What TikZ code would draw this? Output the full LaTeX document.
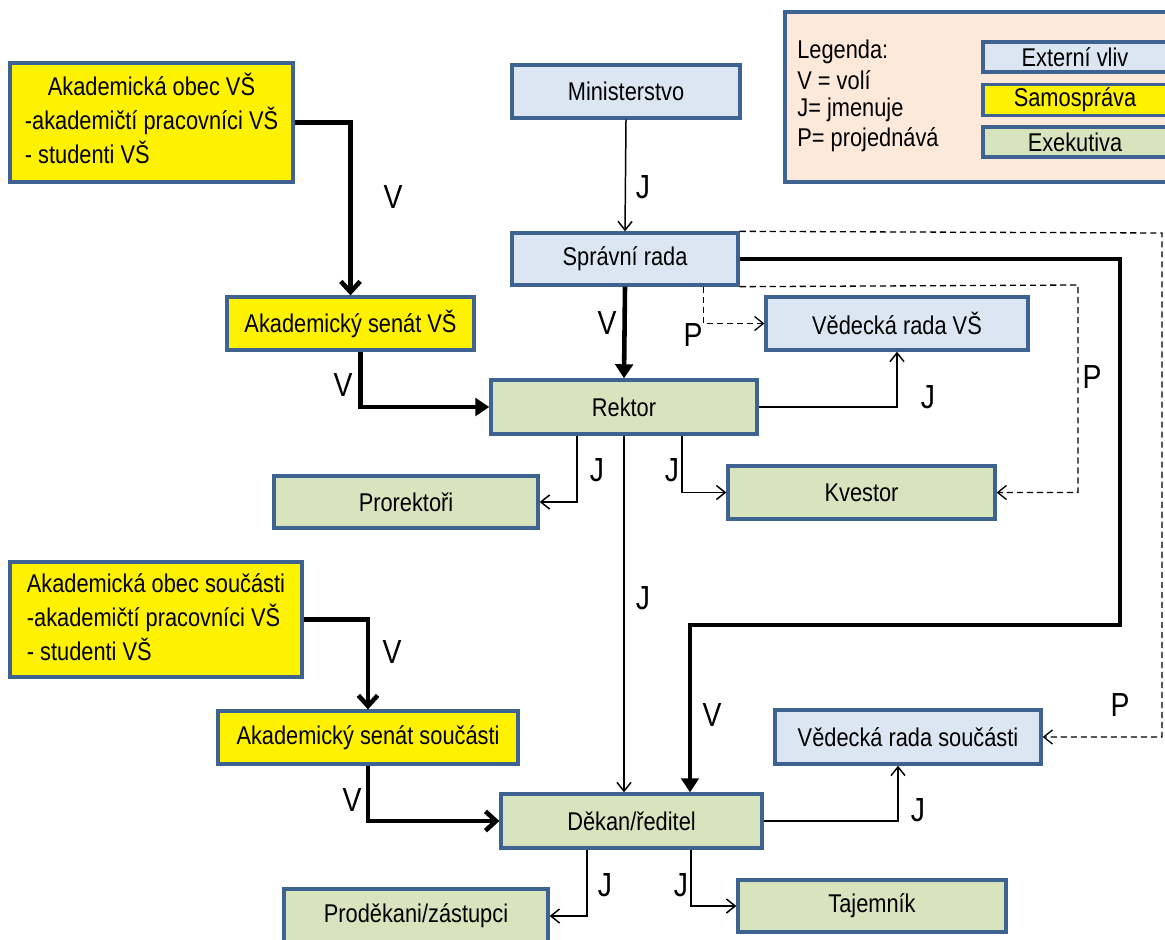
\documentclass[tikz,border=0pt]{standalone}
\usepackage{fontspec}
\setmainfont{Liberation Sans}[FakeStretch=0.85]
\usetikzlibrary{arrows.meta}

\definecolor{extfill}{HTML}{DCE6F2}
\definecolor{exefill}{HTML}{D7E4BD}
\definecolor{legfill}{HTML}{FDE9D9}
\definecolor{boxline}{HTML}{3E6390}

\tikzset{
    box/.style={draw=boxline, line width=1.9pt, inner sep=2pt, font=\fontsize{14.6}{19.3}\selectfont},
    ext/.style={box, fill=extfill},
    samo/.style={box, fill=yellow},
    exe/.style={box, fill=exefill},
    volba/.style={line width=2.6pt, -{Straight Barb[length=6pt,width=11pt]}},
    volbaplna/.style={line width=2.6pt, -{Triangle[length=8pt,width=10pt]}},
    jmen/.style={line width=0.85pt, -{Straight Barb[length=5pt,width=8pt]}},
    proj/.style={line width=0.75pt, dash pattern=on 3.5pt off 2.2pt, -{Straight Barb[length=5pt,width=8pt]}},
    lbl/.style={font=\fontsize{19}{19}\selectfont}
}

\begin{document}
\begin{tikzpicture}[x=0.02cm, y=-0.02cm]

    \useasboundingbox (0,0) rectangle (1165,939);

    % Legend
    \node[box, fill=legfill, minimum width=7.8cm, minimum height=3.4cm] (legenda) at (980,97) {};
    \foreach \t/\y [count=\i] in {Legenda:/52, V = volí/80, J= jmenuje/110, P= projednává/140} {
        \node[anchor=west, inner sep=0pt, font=\fontsize{14.6}{15}\selectfont] (leg\i) at (797,\y) {\t};
    }
    \node[ext, minimum width=3.68cm, minimum height=0.6cm] (legext) at (1075,57) {Externí vliv};
    \node[samo, minimum width=3.68cm, minimum height=0.6cm] (legsamo) at (1075,100) {Samospráva};
    \node[exe, minimum width=3.68cm, minimum height=0.6cm] (legexe) at (1075,142) {Exekutiva};

    % Boxes
    \node[samo, minimum width=5.66cm, minimum height=2.38cm] (aovs) at (151.5,122.5)
        {\begin{tabular}{@{}l@{}}\multicolumn{1}{@{}c@{}}{Akademická obec VŠ}\\-akademičtí pracovníci VŠ\\- studenti VŠ\end{tabular}};
    \node[ext, minimum width=4.56cm, minimum height=1.06cm] (min) at (626,91.5) {Ministerstvo};
    \node[ext, minimum width=4.52cm, minimum height=1.04cm] (spr) at (625,259) {Správní rada};
    \node[samo, minimum width=4.94cm, minimum height=1.06cm] (asvs) at (350.5,323.5) {Akademický senát VŠ};
    \node[ext, minimum width=5.24cm, minimum height=1.06cm] (vrvs) at (897,323.5) {Vědecká rada VŠ};
    \node[exe, minimum width=5.32cm, minimum height=1.08cm] (rektor) at (624,407) {Rektor};
    \node[exe, minimum width=5.28cm, minimum height=1.04cm] (prorektori) at (406,502) {Prorektoři};
    \node[exe, minimum width=5.34cm, minimum height=1.06cm] (kvestor) at (861.5,492.5) {Kvestor};

    \node[samo, minimum width=5.84cm, minimum height=2.3cm] (aosc) at (156,619.5)
        {\begin{tabular}{@{}l@{}}\multicolumn{1}{@{}c@{}}{Akademická obec součásti}\\-akademičtí pracovníci VŠ\\- studenti VŠ\end{tabular}};
    \node[samo, minimum width=6cm, minimum height=1.06cm] (assc) at (368,737.5) {Akademický senát součásti};
    \node[ext, minimum width=5.32cm, minimum height=1.08cm] (vrs) at (908,737) {Vědecká rada součásti};
    \node[exe, minimum width=5.22cm, minimum height=1.08cm] (dekan) at (631.5,821) {Děkan/ředitel};
    \node[exe, minimum width=5.28cm, minimum height=1.08cm] (prodekani) at (416,916) {Proděkani/zástupci};
    \node[exe, minimum width=5.36cm, minimum height=1.04cm] (tajemnik) at (872,906) {Tajemník};

    % V = voli
    \draw[volba] (aovs.east) -| (asvs.north);
    \draw[volbaplna] ([xshift=0.2cm]asvs.south) |- (rektor.west);
    \draw[volbaplna] (spr.south) -- (rektor.north);
    \draw[volbaplna] (spr.east) -| (1120,625) -| ([xshift=1.17cm]dekan.north);
    \draw[volba] (aosc.east) -| (assc.north);
    \draw[volba] (assc.south) |- (dekan.west);

    % J = jmenuje
    \draw[jmen] (min.south) -- (spr.north);
    \draw[jmen] (rektor.east) -| (vrvs.south);
    \draw[jmen] ([xshift=-0.94cm]rektor.south) |- (prorektori.east);
    \draw[jmen] ([xshift=1.16cm]rektor.south) |- (kvestor.west);
    \draw[jmen] (rektor.south) -- (rektor.south |- dekan.north);
    \draw[jmen] (dekan.east) -| ([xshift=-0.2cm]vrs.south);
    \draw[jmen] ([xshift=-0.89cm]dekan.south) |- (prodekani.east);
    \draw[jmen] ([xshift=1.19cm]dekan.south) |- (tajemnik.west);

    % P = projednava
    \draw[proj] (spr.north east) -- (1162,233) |- (vrs.east);
    \draw[proj] (spr.south east) -- (1078,285) |- (kvestor.east);
    \draw[proj] ([xshift=-0.72cm]spr.south east) |- (vrvs.west);

    % Labels
    \node[lbl] (v1) at (393,197) {V};
    \node[lbl] (v2) at (343,385) {V};
    \node[lbl] (v3) at (607,323) {V};
    \node[lbl] (v4) at (712,715) {V};
    \node[lbl] (v5) at (392,652) {V};
    \node[lbl] (v6) at (352,800) {V};
    \node[lbl] (j1) at (643,187) {J};
    \node[lbl] (j2) at (928,397) {J};
    \node[lbl] (j3) at (597,470) {J};
    \node[lbl] (j4) at (672,470) {J};
    \node[lbl] (j5) at (643,598) {J};
    \node[lbl] (j6) at (918,810) {J};
    \node[lbl] (j7) at (605,885) {J};
    \node[lbl] (j8) at (681,885) {J};
    \node[lbl] (p1) at (693,335) {P};
    \node[lbl] (p2) at (1092,377) {P};
    \node[lbl] (p3) at (1120,705) {P};

\end{tikzpicture}
\end{document}
